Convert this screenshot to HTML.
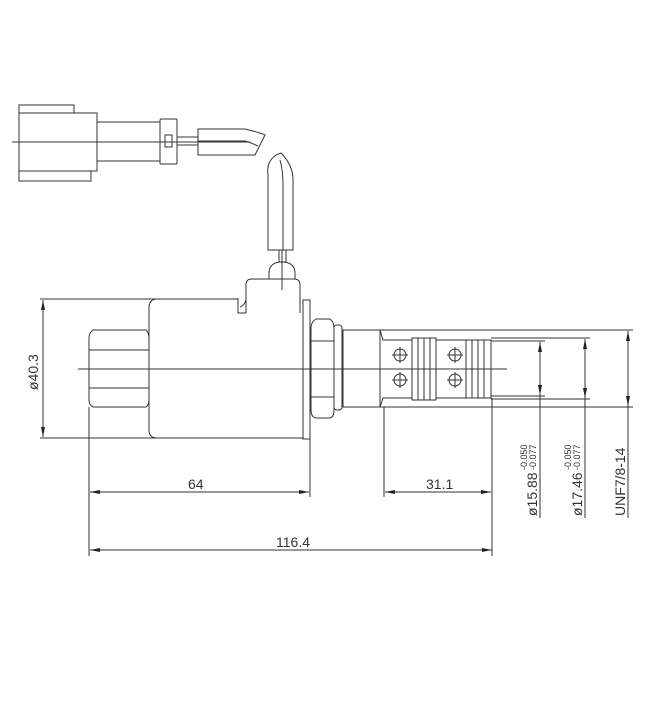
<!DOCTYPE html>
<html><head><style>body{margin:0;background:#fff}svg{display:block}</style></head>
<body>
<svg width="650" height="717" viewBox="0 0 650 717" xmlns="http://www.w3.org/2000/svg" font-family="Liberation Sans Narrow, Liberation Sans, sans-serif" fill="none" stroke="#333" stroke-width="1">
<defs><marker id="a" viewBox="0 0 10 4" refX="10" refY="2" markerWidth="10" markerHeight="4" orient="auto-start-reverse" markerUnits="userSpaceOnUse"><path d="M0,0L10,2L0,4z" fill="#222" stroke="none"/></marker></defs>
<!-- connector -->
<rect x="19" y="105" width="55" height="8"/>
<rect x="19" y="113" width="78" height="58"/>
<rect x="19" y="171" width="72" height="10"/>
<rect x="97" y="122" width="63" height="39"/>
<rect x="160" y="119" width="17" height="45" rx="1"/>
<rect x="165" y="135" width="7" height="12"/>
<line x1="177" y1="137" x2="198" y2="137"/><line x1="177" y1="145" x2="198" y2="145"/>
<path d="M198,129 L245,129 Q258,132 265,135 L255,155 L198,155 Z"/>
<path d="M198,141 L245,141 Q252,143 258,146"/>
<line x1="12" y1="142" x2="250" y2="142"/>
<!-- vertical cable -->
<path d="M268,250 L268,175 Q266,162 276,155 L281,153 Q293,165 293,180 L293,250 Z"/>
<path d="M280,160 Q283,170 283,185 L283,250"/>
<rect x="279" y="250" width="7" height="12"/>
<path d="M269,279 L269,272 Q270,262 282,262 Q294,262 295,272 L295,279"/>
<line x1="282" y1="250" x2="282" y2="290"/>
<path d="M246,313 L246,285 Q246,279 252,279 L294,279 Q300,279 300,285 L300,313"/>
<path d="M238,298 L238,313 L246,313 M240,307 Q244,306 246,300"/>
<rect x="303" y="300" width="7" height="139"/>
<!-- body -->
<line x1="40" y1="299" x2="238" y2="299"/>
<path d="M157,299 Q149,299 149,308 L149,430 Q149,438 157,438 L303,438"/>
<line x1="40" y1="438" x2="157" y2="438"/>
<path d="M93,330 L146,330 Q149,333 149,338 L149,400 Q149,405 146,407 L93,407 Q89,405 89,400 L89,338 Q89,333 93,330 Z"/>
<line x1="89" y1="350" x2="149" y2="350"/><line x1="89" y1="388" x2="149" y2="388"/>
<line x1="78" y1="369" x2="507" y2="369"/>
<!-- nut right -->
<path d="M316,319 L330,319 Q334,322 334,328 L334,410 Q334,417 330,418 L316,418 Q311,417 311,410 L311,328 Q311,322 316,319 Z"/>
<line x1="311" y1="341" x2="334" y2="341"/><line x1="311" y1="397" x2="334" y2="397"/>
<rect x="334" y="325" width="8" height="85" rx="3"/>
<rect x="343" y="330" width="37" height="77"/>
<path d="M380,330 L383,340 L412,340 M380,407 L383,398 L412,398"/>
<rect x="412" y="338" width="24" height="62"/>
<line x1="418" y1="338" x2="418" y2="400"/><line x1="424" y1="338" x2="424" y2="400"/><line x1="430" y1="338" x2="430" y2="400"/>
<path d="M436,340 L466,340 M436,398 L466,398"/>
<rect x="466" y="340" width="25" height="58"/>
<line x1="472" y1="340" x2="472" y2="398"/><line x1="478" y1="340" x2="478" y2="398"/><line x1="484" y1="340" x2="484" y2="398"/>
<g>
<circle cx="400" cy="355" r="6"/><line x1="392" y1="355" x2="408" y2="355"/><line x1="400" y1="347" x2="400" y2="363"/>
<circle cx="400" cy="380" r="6"/><line x1="392" y1="380" x2="408" y2="380"/><line x1="400" y1="372" x2="400" y2="388"/>
<circle cx="455" cy="355" r="6"/><line x1="447" y1="355" x2="463" y2="355"/><line x1="455" y1="347" x2="455" y2="363"/>
<circle cx="455" cy="380" r="6"/><line x1="447" y1="380" x2="463" y2="380"/><line x1="455" y1="372" x2="455" y2="388"/>
</g>
<!-- dims -->
<line x1="43" y1="300" x2="43" y2="437" marker-start="url(#a)" marker-end="url(#a)"/>
<text x="0" y="0" transform="translate(38,390) rotate(-90)" fill="#333" stroke="none" font-size="14">ø40.3</text>
<line x1="89" y1="407" x2="89" y2="556"/>
<line x1="310" y1="439" x2="310" y2="497"/>
<line x1="90" y1="492" x2="309" y2="492" marker-start="url(#a)" marker-end="url(#a)"/>
<text x="188" y="489" fill="#333" stroke="none" font-size="14">64</text>
<line x1="90" y1="550" x2="492" y2="550" marker-start="url(#a)" marker-end="url(#a)"/>
<text x="276" y="547" fill="#333" stroke="none" font-size="14">116.4</text>
<line x1="384" y1="407" x2="384" y2="497"/>
<line x1="492" y1="398" x2="492" y2="556"/>
<line x1="385" y1="492" x2="491" y2="492" marker-start="url(#a)" marker-end="url(#a)"/>
<text x="426" y="489" fill="#333" stroke="none" font-size="14">31.1</text>
<line x1="380" y1="330" x2="633" y2="330"/><line x1="380" y1="407" x2="633" y2="407"/>
<line x1="491" y1="338" x2="590" y2="338"/><line x1="491" y1="399" x2="590" y2="399"/>
<line x1="491" y1="341" x2="545" y2="341"/><line x1="491" y1="396" x2="545" y2="396"/>
<line x1="540" y1="342" x2="540" y2="395" marker-start="url(#a)" marker-end="url(#a)"/>
<line x1="540" y1="395" x2="540" y2="518"/>
<line x1="585" y1="339" x2="585" y2="398" marker-start="url(#a)" marker-end="url(#a)"/>
<line x1="585" y1="398" x2="585" y2="518"/>
<line x1="628" y1="331" x2="628" y2="406" marker-start="url(#a)" marker-end="url(#a)"/>
<line x1="628" y1="406" x2="628" y2="518"/>
<g fill="#333" stroke="none">
<text transform="translate(537,516) rotate(-90)" font-size="14">ø15.88</text>
<text transform="translate(527,470) rotate(-90)" font-size="9">-0.050</text>
<text transform="translate(536,470) rotate(-90)" font-size="9">-0.077</text>
<text transform="translate(582,516) rotate(-90)" font-size="14">ø17.46</text>
<text transform="translate(571,470) rotate(-90)" font-size="9">-0.050</text>
<text transform="translate(580,470) rotate(-90)" font-size="9">-0.077</text>
<text transform="translate(625,516) rotate(-90)" font-size="14">UNF7/8-14</text>
</g>
</svg>
</body></html>
